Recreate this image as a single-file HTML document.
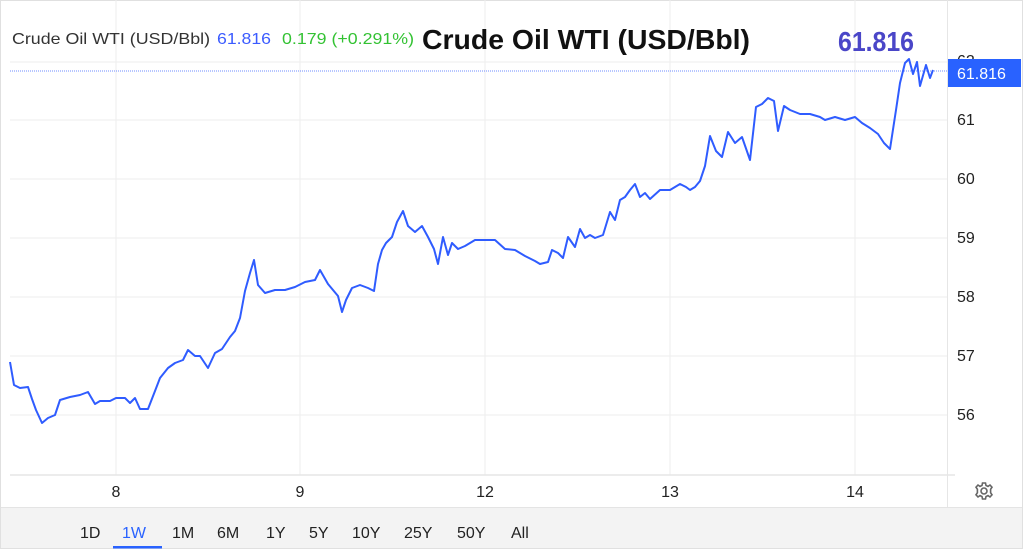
<!DOCTYPE html>
<html><head><meta charset="utf-8"><style>
body{margin:0;background:#fff;width:1024px;height:554px;overflow:hidden;font-family:"Liberation Sans",sans-serif}
</style></head><body>
<svg width="1024" height="554" xmlns="http://www.w3.org/2000/svg" font-family="Liberation Sans, sans-serif">
<rect x="0.5" y="0.5" width="1022" height="548" fill="#fff" stroke="#e0e0e0"/>
<g stroke="#eeeeee" stroke-width="1">
<line x1="116" y1="0" x2="116" y2="475"/><line x1="300" y1="0" x2="300" y2="475"/>
<line x1="485" y1="0" x2="485" y2="475"/><line x1="670" y1="0" x2="670" y2="475"/>
<line x1="855" y1="0" x2="855" y2="475"/>
<line x1="10" y1="62" x2="947" y2="62"/><line x1="10" y1="120" x2="947" y2="120"/>
<line x1="10" y1="179" x2="947" y2="179"/><line x1="10" y1="238" x2="947" y2="238"/>
<line x1="10" y1="297" x2="947" y2="297"/><line x1="10" y1="356" x2="947" y2="356"/>
<line x1="10" y1="415" x2="947" y2="415"/>
</g>
<line x1="10" y1="475" x2="955" y2="475" stroke="#e6e6e6" stroke-width="1.5"/>
<line x1="947.5" y1="0" x2="947.5" y2="507" stroke="#e6e6e6"/>
<line x1="10" y1="71" x2="947" y2="71" stroke="#6f8cff" stroke-width="1" stroke-dasharray="1,1"/>
<g font-size="16" fill="#222">
<text x="957" y="66">62</text><text x="957" y="125">61</text><text x="957" y="184">60</text>
<text x="957" y="243">59</text><text x="957" y="302">58</text><text x="957" y="361">57</text><text x="957" y="420">56</text>
</g>
<rect x="948" y="59" width="73" height="28" fill="#2962ff"/>
<text x="957" y="79" font-size="16" fill="#fff">61.816</text>
<polyline fill="none" stroke="#2f5cff" stroke-width="2" stroke-linejoin="round" points="
10,362 14,385 20,388 28,387 32,399 36,410 42,423 48,418 55,415 60,400 70,397 80,395 88,392 95,404 100,401 110,401 116,398 125,398 130,403 135,398 140,409 148,409 155,391 160,378 168,368 175,363 183,360 188,350 195,356 200,356 208,368 215,353 222,349 230,337 235,331 240,318 245,291 250,273 254,260 258,285 265,293 275,290 285,290 295,287 305,282 315,280 320,270 328,284 333,290 338,296 342,312 346,300 352,288 360,285 368,288 374,291 378,264 382,250 386,243 392,237 397,222 403,211 408,226 415,232 422,226 428,237 434,249 438,264 443,237 448,255 452,243 458,249 465,246 475,240 485,240 495,240 505,249 515,250 525,256 535,261 540,264 548,262 552,250 558,253 563,258 568,237 575,247 580,229 585,238 590,235 595,238 603,235 610,212 615,220 620,200 625,197 630,190 635,184 640,197 645,193 650,199 660,190 670,190 680,184 686,187 690,190 695,187 700,181 705,166 710,136 716,151 722,157 728,132 735,143 742,137 750,160 756,107 762,104 768,98 774,101 778,131 784,106 790,110 800,114 810,114 820,117 825,120 835,117 845,120 855,117 862,123 870,128 878,134 884,143 890,149 896,110 900,83 905,63 909,59 913,74 917,62 920,86 926,65 930,78 933,70"/>
<text x="12" y="44" font-size="16" fill="#333" textLength="198" lengthAdjust="spacingAndGlyphs">Crude Oil WTI (USD/Bbl)</text>
<text x="217" y="44" font-size="16" fill="#3b5bff" textLength="54" lengthAdjust="spacingAndGlyphs">61.816</text>
<text x="282" y="44" font-size="16" fill="#33c233" textLength="132" lengthAdjust="spacingAndGlyphs">0.179 (+0.291%)</text>
<text x="422" y="49" font-size="28" font-weight="bold" fill="#111" textLength="328" lengthAdjust="spacingAndGlyphs">Crude Oil WTI (USD/Bbl)</text>
<text x="838" y="51" font-size="28" font-weight="bold" fill="#4a46c8" textLength="76" lengthAdjust="spacingAndGlyphs">61.816</text>
<g font-size="16" fill="#222" text-anchor="middle">
<text x="116" y="497">8</text><text x="300" y="497">9</text><text x="485" y="497">12</text>
<text x="670" y="497">13</text><text x="855" y="497">14</text>
</g>
<g transform="translate(984,491)" fill="none" stroke="#666" stroke-width="1.6">
<circle r="3"/>
<path d="M-1.5,-8 L1.5,-8 L2,-5.5 L4,-4.6 L6,-6 L8,-3.8 L6.6,-1.7 L6.6,1.7 L8,3.8 L6,6 L4,4.6 L2,5.5 L1.5,8 L-1.5,8 L-2,5.5 L-4,4.6 L-6,6 L-8,3.8 L-6.6,1.7 L-6.6,-1.7 L-8,-3.8 L-6,-6 L-4,-4.6 L-2,-5.5 Z"/>
</g>
<rect x="1" y="507" width="1021" height="41" fill="#f3f3f3"/>
<line x1="1" y1="507.5" x2="1022" y2="507.5" stroke="#e4e4e4"/>
<g font-size="16" fill="#222">
<text x="80" y="538">1D</text><text x="122" y="538" fill="#2962ff">1W</text>
<text x="172" y="538">1M</text><text x="217" y="538">6M</text><text x="266" y="538">1Y</text>
<text x="309" y="538">5Y</text><text x="352" y="538">10Y</text><text x="404" y="538">25Y</text>
<text x="457" y="538">50Y</text><text x="511" y="538">All</text>
</g>
<rect x="113" y="546" width="49" height="2.5" fill="#2962ff"/>
</svg>
</body></html>
